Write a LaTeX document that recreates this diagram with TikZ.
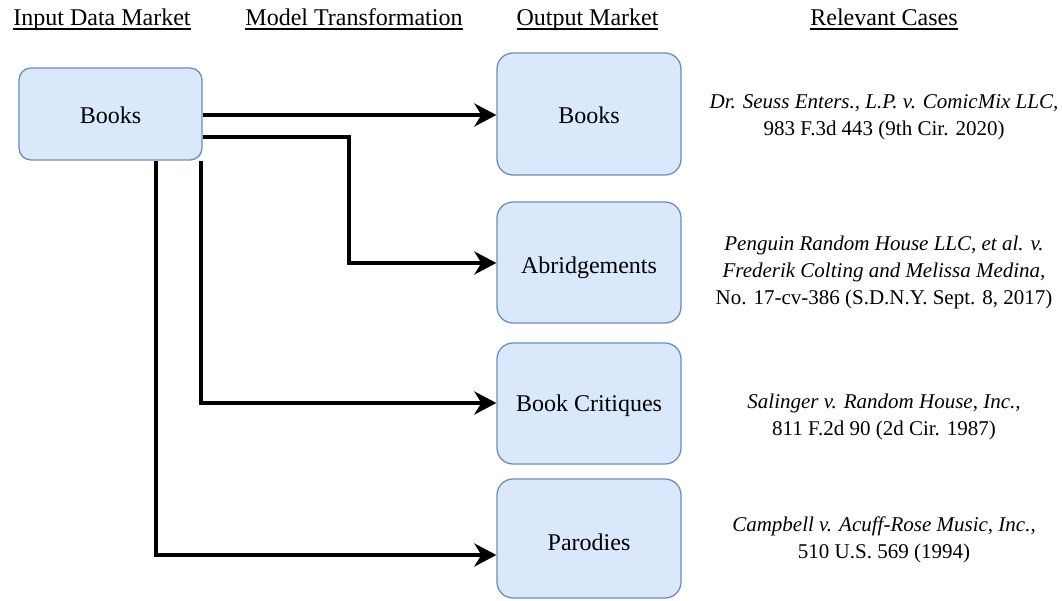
\documentclass[tikz,border=0pt]{standalone}
\usepackage{fontspec}
\setmainfont{Liberation Serif}
\newcommand\myul[1]{\setbox0\hbox{#1}\rlap{\vrule height -3.4pt depth 5.0pt width \wd0}\box0}
\newcommand\mylower[2]{\raisebox{-#1}[\height][\depth]{#2}}
\usetikzlibrary{arrows.meta}
\definecolor{boxfill}{HTML}{DAE8FC}
\definecolor{boxline}{HTML}{6C8EBF}
\begin{document}
\begin{tikzpicture}[x=1pt,y=-1pt,
  box/.style={draw=boxline, fill=boxfill, line width=1.3pt, inner sep=0pt,
    font=\fontsize{24}{28}\selectfont},
  hdr/.style={font=\fontsize{24}{28}\selectfont, inner sep=0pt},
  casetxt/.style={font=\fontsize{21}{27}\selectfont, align=center, inner sep=0pt},
  conn/.style={line width=4pt, -{Stealth[length=22pt,width=23pt,inset=7pt]}}]
\useasboundingbox (0,0) rectangle (1062,600);
% headers
\node[hdr, anchor=base] (h1) at (102,25) {\myul{Input Data Market}};
\node[hdr, anchor=base] (h2) at (354,25) {\myul{Model Transformation}};
\node[hdr, anchor=base] (h3) at (587.5,25) {\myul{Output Market}};
\node[hdr, anchor=base] (h4) at (884,25) {\myul{Relevant Cases}};
% input
\node[box, rounded corners=12pt, minimum width=183pt, minimum height=92pt] (in) at (110.5,114) {\mylower{1pt}{Books}};
% outputs
\node[box, rounded corners=16pt, minimum width=184pt, minimum height=122pt] (o1) at (589,114) {\mylower{1pt}{Books}};
\node[box, rounded corners=16pt, minimum width=184pt, minimum height=121pt] (o2) at (589,262.5) {\mylower{5pt}{Abridgements}};
\node[box, rounded corners=16pt, minimum width=184pt, minimum height=121pt] (o3) at (589,403.5) {\mylower{2pt}{Book Critiques}};
\node[box, rounded corners=16pt, minimum width=184pt, minimum height=119pt] (o4) at (589,538.5) {\mylower{4pt}{Parodies}};
% connectors
\draw[conn] (in.east |- 0,115) -- (o1.west |- 0,115);
\draw[conn] (in.east |- 0,137) -| (349,263) -- (o2.west |- 0,263);
\draw[conn] (in.south -| 201,0) |- (o3.west |- 0,403);
\draw[conn] (in.south -| 156,0) |- (o4.west |- 0,555);
% cases
\node[casetxt] (c1) at (884,117) {\textit{Dr. Seuss Enters., L.P. v. ComicMix LLC,}\\983 F.3d 443 (9th Cir. 2020)};
\node[casetxt] (c2) at (884,272) {\textit{Penguin Random House LLC, et al. v.}\\\textit{Frederik Colting and Melissa Medina,}\\No. 17-cv-386 (S.D.N.Y. Sept. 8, 2017)};
\node[casetxt] (c3) at (884,417) {\textit{Salinger v. Random House, Inc.,}\\811 F.2d 90 (2d Cir. 1987)};
\node[casetxt] (c4) at (884,540) {\textit{Campbell v. Acuff-Rose Music, Inc.,}\\510 U.S. 569 (1994)};
\end{tikzpicture}
\end{document}
